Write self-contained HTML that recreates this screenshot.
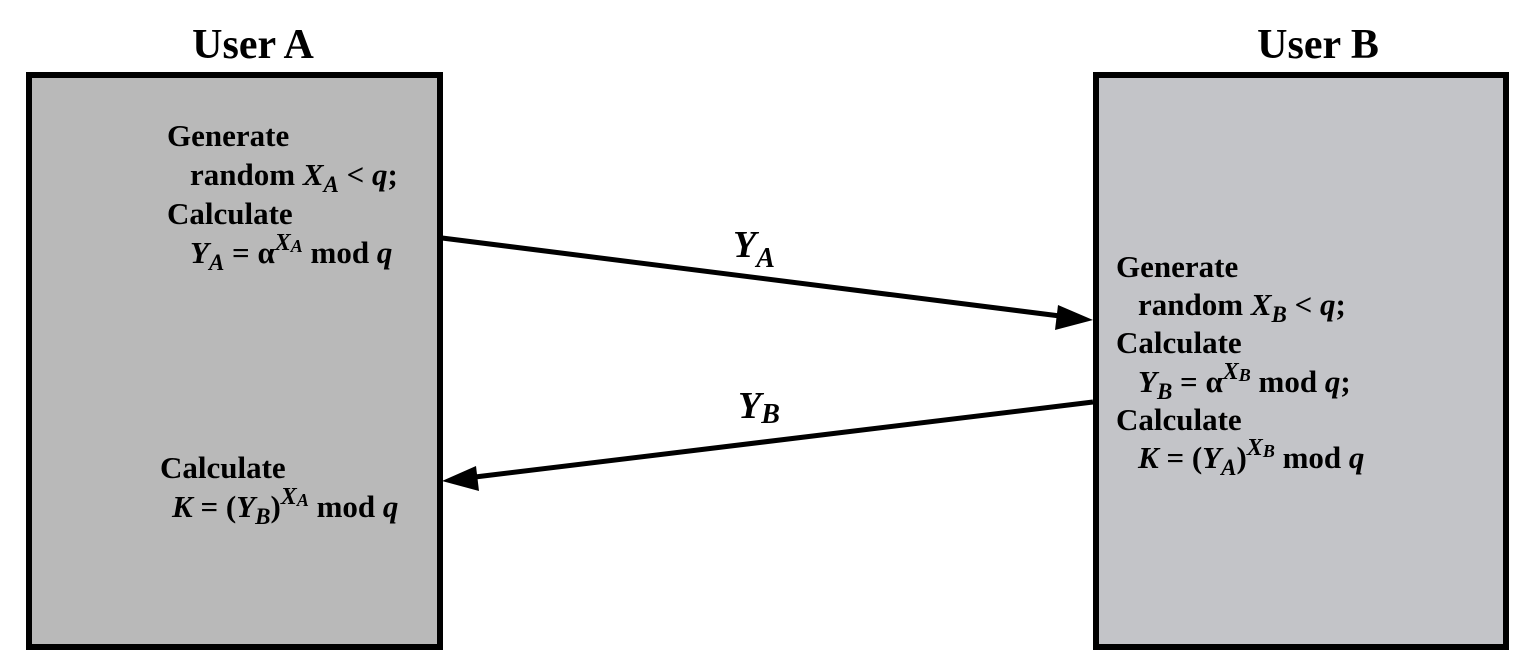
<!DOCTYPE html>
<html><head><meta charset="utf-8"><style>
html,body{margin:0;padding:0;background:#fff;}
svg{display:block;}
text{font-family:"Liberation Serif",serif;font-weight:bold;fill:#000;}
.i{font-style:italic;}
</style></head><body>
<svg width="1536" height="653" viewBox="0 0 1536 653" xmlns="http://www.w3.org/2000/svg">
<rect x="29" y="75" width="411" height="572" fill="#b9b9b9" stroke="#000" stroke-width="6"/>
<rect x="1096" y="75" width="410" height="572" fill="#c3c4c8" stroke="#000" stroke-width="6"/>
<text x="253" y="58" font-size="42" text-anchor="middle">User A</text>
<text x="1318" y="58" font-size="42" text-anchor="middle">User B</text>

<g font-size="31">
<text x="167" y="146">Generate</text>
<text x="190" y="185">random <tspan class="i">X</tspan><tspan class="i" font-size="23" dy="7">A</tspan><tspan dy="-7"> &lt; </tspan><tspan class="i">q</tspan>;</text>
<text x="167" y="224">Calculate</text>
<text x="190" y="263"><tspan class="i">Y</tspan><tspan class="i" font-size="23" dy="7">A</tspan><tspan dy="-7"> = α</tspan><tspan class="i" font-size="24" dy="-13">X</tspan><tspan class="i" font-size="18" dy="2">A</tspan><tspan dy="11"> mod </tspan><tspan class="i">q</tspan></text>

<text x="160" y="478">Calculate</text>
<text x="172" y="517"><tspan class="i">K</tspan> = (<tspan class="i">Y</tspan><tspan class="i" font-size="23" dy="7">B</tspan><tspan dy="-7">)</tspan><tspan class="i" font-size="24" dy="-13">X</tspan><tspan class="i" font-size="18" dy="2">A</tspan><tspan dy="11"> mod </tspan><tspan class="i">q</tspan></text>

<text x="1116" y="277">Generate</text>
<text x="1138" y="315">random <tspan class="i">X</tspan><tspan class="i" font-size="23" dy="7">B</tspan><tspan dy="-7"> &lt; </tspan><tspan class="i">q</tspan>;</text>
<text x="1116" y="353">Calculate</text>
<text x="1138" y="392"><tspan class="i">Y</tspan><tspan class="i" font-size="23" dy="7">B</tspan><tspan dy="-7"> = α</tspan><tspan class="i" font-size="24" dy="-13">X</tspan><tspan class="i" font-size="18" dy="2">B</tspan><tspan dy="11"> mod </tspan><tspan class="i">q</tspan>;</text>
<text x="1116" y="430">Calculate</text>
<text x="1138" y="468"><tspan class="i">K</tspan> = (<tspan class="i">Y</tspan><tspan class="i" font-size="23" dy="7">A</tspan><tspan dy="-7">)</tspan><tspan class="i" font-size="24" dy="-13">X</tspan><tspan class="i" font-size="18" dy="2">B</tspan><tspan dy="11"> mod </tspan><tspan class="i">q</tspan></text>
</g>

<line x1="442" y1="238" x2="1060" y2="316" stroke="#000" stroke-width="5"/>
<polygon points="1093,320 1058,305 1055,330" fill="#000"/>
<line x1="1093" y1="402" x2="475" y2="477" stroke="#000" stroke-width="5"/>
<polygon points="442,481 476,466 479,491" fill="#000"/>

<text x="733" y="257" font-size="38" class="i">Y<tspan font-size="28" dy="10">A</tspan></text>
<text x="738" y="418" font-size="38" class="i">Y<tspan font-size="28" dy="5">B</tspan></text>
</svg>
</body></html>
